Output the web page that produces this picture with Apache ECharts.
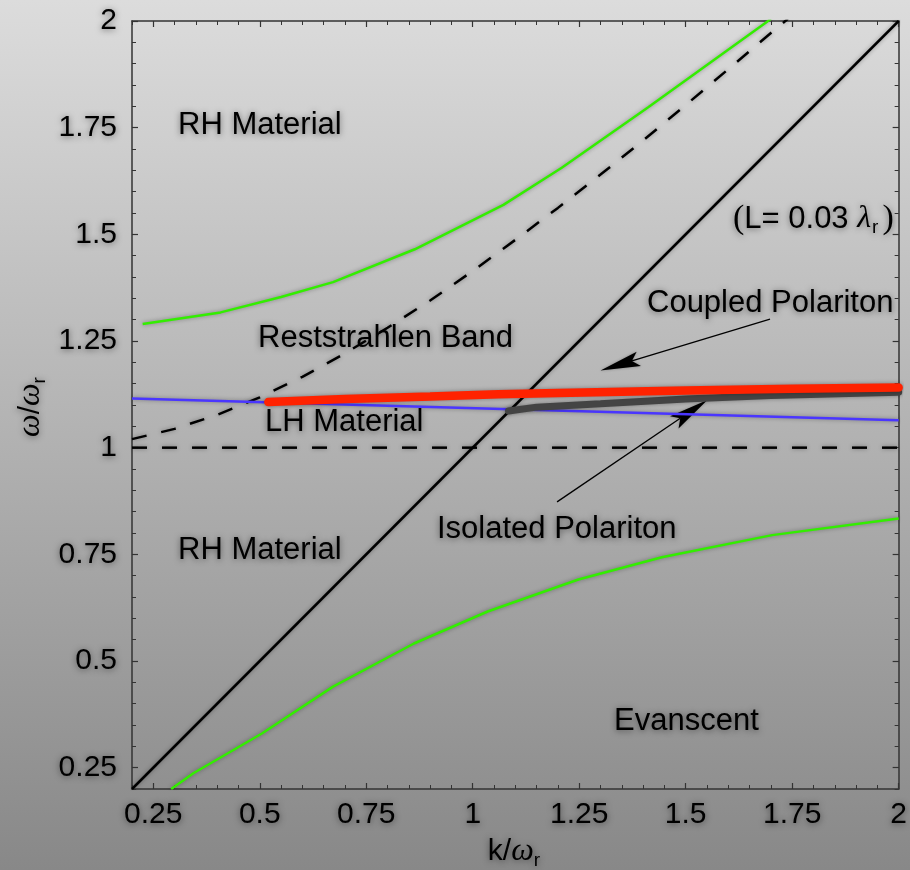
<!DOCTYPE html>
<html><head><meta charset="utf-8">
<script src="https://cdn.jsdelivr.net/npm/echarts@6/dist/echarts.min.js"></script>
<style>html,body{margin:0;padding:0;background:#b4b4b4}#c{width:910px;height:870px}</style>
</head><body><div id="c"></div>
<script>
// ---- data ----
const kTicks = [0.25, 0.5, 0.75, 1, 1.25, 1.5, 1.75, 2];
const kTickLabels = ['0.25', '0.5', '0.75', '1', '1.25', '1.5', '1.75', '2'];
const wTicks = [0.25, 0.5, 0.75, 1, 1.25, 1.5, 1.75, 2];
const wTickLabels = ['0.25', '0.5', '0.75', '1', '1.25', '1.5', '1.75', '2'];

const lightLine = [[0.2, 0.2], [2, 2]];
const resonanceLine = [[0.2, 1], [2, 1]];
const dashedCurve = [[0.2, 1.02], [0.3, 1.044], [0.4, 1.077], [0.5, 1.118], [0.6, 1.166], [0.7, 1.221],
  [0.8, 1.281], [0.9, 1.345], [1.0, 1.414], [1.1, 1.487], [1.2, 1.562], [1.3, 1.64], [1.4, 1.72],
  [1.5, 1.803], [1.6, 1.887], [1.7, 1.972], [1.74, 2.005]];
const upperGreen = [[0.225, 1.29], [0.408, 1.317], [0.55, 1.353], [0.672, 1.388], [0.864, 1.465],
  [1.072, 1.569], [1.209, 1.656], [1.412, 1.798], [1.691, 1.998], [1.70, 2.005]];
const lowerGreen = [[0.292, 0.2], [0.344, 0.237], [0.505, 0.33], [0.672, 0.44], [0.862, 0.541],
  [1.035, 0.616], [1.248, 0.691], [1.444, 0.743], [1.703, 0.795], [2.0, 0.834]];
const blueLine = [[0.2, 1.115], [2, 1.064]];
const coupledPolariton = [[0.52, 1.107], [0.7, 1.114], [0.9, 1.12], [1.06, 1.125], [1.2, 1.128],
  [1.5, 1.134], [1.75, 1.138], [2, 1.141]];
const isolatedPolariton = [[1.084, 1.086], [1.15, 1.095], [1.3, 1.103], [1.5, 1.114], [1.7, 1.122], [2, 1.13]];
// arrows: [tail k, tail ω, tip k, tip ω]
const arrows = [[1.698, 1.301, 1.30, 1.181], [1.198, 0.873, 1.551, 1.112]];

// ---- chart ----
const minorTicks = [];
for (let i = 0; i <= 36; i++) minorTicks.push(Math.round((0.2 + i * 0.05) * 100) / 100);

const SANS = '"Liberation Sans", Arial, Helvetica, sans-serif';
const SERIF = '"Liberation Serif", "Times New Roman", serif';
const shadow = { textShadowColor: 'rgba(0,0,0,0.5)', textShadowBlur: 6, textShadowOffsetY: 1 };
const AX = '#333';

function axes(dim, ticks, labels) {
  const first = dim === 'x' ? 'bottom' : 'left';
  const second = dim === 'x' ? 'top' : 'right';
  const base = { type: 'value', min: 0.2, max: 2, splitLine: { show: false } };
  return [
    Object.assign({}, base, {
      position: first,
      axisLine: { show: true, onZero: false, lineStyle: { color: AX, width: 1.5 } },
      axisTick: { show: true, inside: true, length: 6, customValues: ticks, lineStyle: { color: AX, width: 1.2 } },
      axisLabel: Object.assign({
        show: true, customValues: ticks, margin: dim === 'x' ? 11 : 15,
        fontSize: 30, fontFamily: SANS, color: '#000',
        formatter: v => labels[ticks.findIndex(t => Math.abs(t - v) < 1e-6)]
      }, shadow)
    }),
    Object.assign({}, base, {
      position: first,
      axisLine: { show: false, onZero: false },
      axisTick: { show: true, inside: true, length: 4, customValues: minorTicks, lineStyle: { color: AX, width: 1 } },
      axisLabel: { show: false }
    }),
    Object.assign({}, base, {
      position: second,
      axisLine: { show: true, onZero: false, lineStyle: { color: AX, width: 1.5 } },
      axisTick: { show: true, inside: true, length: 4, customValues: minorTicks, lineStyle: { color: AX, width: 1 } },
      axisLabel: { show: false }
    }),
    Object.assign({}, base, {
      position: second,
      axisLine: { show: false, onZero: false },
      axisTick: { show: true, inside: true, length: 6, customValues: ticks, lineStyle: { color: AX, width: 1.2 } },
      axisLabel: { show: false }
    })
  ];
}

const lineShadow = { shadowColor: 'rgba(0,0,0,0.35)', shadowBlur: 4 };
function curve(data, color, width, extra) {
  return {
    type: 'line', data: data, symbol: 'none', silent: true, clip: true,
    lineStyle: Object.assign({ color: color, width: width }, lineShadow, extra || {})
  };
}

function label(text, x, y) {
  return {
    type: 'text', x: x, y: y, silent: true,
    style: Object.assign({ text: text, font: '31px ' + SANS, fill: '#000', align: 'left', verticalAlign: 'middle' }, shadow)
  };
}

function renderArrow(params, api) {
  const p0 = api.coord([api.value(0), api.value(1)]);
  const p1 = api.coord([api.value(2), api.value(3)]);
  const dx = p1[0] - p0[0], dy = p1[1] - p0[1];
  const len = Math.sqrt(dx * dx + dy * dy);
  const ux = dx / len, uy = dy / len;
  const px = -uy, py = ux;
  const L = 40, hw = 7.5, notch = 0.82 * L;
  const bx = p1[0] - ux * L, by = p1[1] - uy * L;
  const nx = p1[0] - ux * notch, ny = p1[1] - uy * notch;
  return {
    type: 'group',
    children: [
      { type: 'line', shape: { x1: p0[0], y1: p0[1], x2: nx, y2: ny }, style: { stroke: '#000', lineWidth: 1.3 } },
      {
        type: 'polygon',
        shape: { points: [[p1[0], p1[1]], [bx + px * hw, by + py * hw], [nx, ny], [bx - px * hw, by - py * hw]] },
        style: { fill: '#000', shadowColor: 'rgba(0,0,0,0.3)', shadowBlur: 3 }
      }
    ]
  };
}

const option = {
  animation: false,
  backgroundColor: {
    type: 'linear', x: 0, y: 0, x2: 0, y2: 1,
    colorStops: [{ offset: 0, color: '#dcdcdc' }, { offset: 1, color: '#888888' }]
  },
  grid: { left: 132, right: 10, top: 21, bottom: 81, containLabel: false },
  xAxis: axes('x', kTicks, kTickLabels),
  yAxis: axes('y', wTicks, wTickLabels),
  series: [
    curve(lightLine, '#000', 2.5),
    curve(resonanceLine, '#000', 2.5, { type: [15, 15] }),
    curve(dashedCurve, '#000', 2.5, { type: [15, 15] }),
    curve(upperGreen, '#33ee00', 2.5),
    curve(lowerGreen, '#33ee00', 2.5),
    curve(blueLine, '#4a36ff', 2.5),
    curve(isolatedPolariton, '#444444', 7, { cap: 'round' }),
    curve(coupledPolariton, '#ff2200', 8.5, { cap: 'round' }),
    {
      type: 'custom', silent: true, data: arrows, renderItem: renderArrow,
      encode: { x: [0, 2], y: [1, 3] }
    }
  ],
  graphic: [
    label('RH Material', 178, 125),
    label('Reststrahlen Band', 258, 338),
    label('LH Material', 265, 422),
    label('RH Material', 178, 550),
    label('Isolated Polariton', 437, 529),
    label('Evanscent', 614, 721),
    label('Coupled Polariton', 647, 303),
    {
      type: 'text', x: 733, y: 219, silent: true,
      style: Object.assign({
        text: '{p|(}{t|L= 0.03 }{l|λ}{s|r}{p|)}',
        align: 'left', verticalAlign: 'middle', fill: '#000',
        rich: {
          p: { fontFamily: SERIF, fontSize: 34, lineHeight: 36 },
          t: { fontFamily: SANS, fontSize: 31, lineHeight: 36 },
          l: { fontFamily: SERIF, fontStyle: 'italic', fontSize: 32, lineHeight: 36 },
          s: { fontFamily: SANS, fontSize: 19, lineHeight: 20, verticalAlign: 'bottom', padding: [0, 4, 0, 1] }
        }
      }, shadow)
    },
    {
      type: 'text', x: 514, y: 852, silent: true,
      style: Object.assign({
        text: '{k|k}{k|/}{w|ω}{s|r}',
        align: 'center', verticalAlign: 'middle', fill: '#000',
        rich: {
          k: { fontFamily: SANS, fontSize: 30, lineHeight: 36 },
          w: { fontFamily: SERIF, fontStyle: 'italic', fontSize: 32, lineHeight: 36 },
          s: { fontFamily: SANS, fontSize: 19, lineHeight: 20, verticalAlign: 'bottom' }
        }
      }, shadow)
    },
    {
      type: 'text', x: 31, y: 407, rotation: Math.PI / 2, silent: true,
      style: Object.assign({
        text: '{w|ω}{k|/}{w|ω}{s|r}',
        align: 'center', verticalAlign: 'middle', fill: '#000',
        rich: {
          k: { fontFamily: SANS, fontSize: 30, lineHeight: 36 },
          w: { fontFamily: SERIF, fontStyle: 'italic', fontSize: 32, lineHeight: 36 },
          s: { fontFamily: SANS, fontSize: 19, lineHeight: 20, verticalAlign: 'bottom' }
        }
      }, shadow)
    }
  ]
};

const chart = echarts.init(document.getElementById('c'), null, { renderer: 'canvas' });
chart.setOption(option);
</script>
</body></html>
